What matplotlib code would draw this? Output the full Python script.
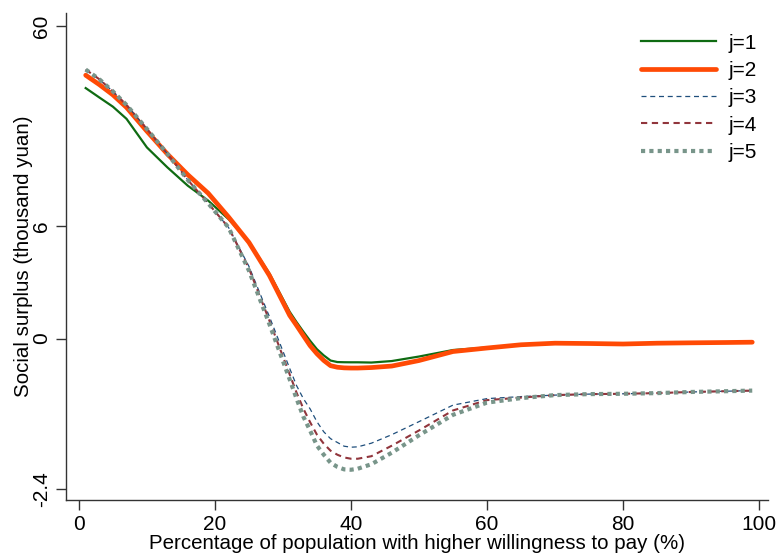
import numpy as np
import matplotlib
matplotlib.use("Agg")
import matplotlib.pyplot as plt

plt.rcParams['font.family'] = ['Liberation Sans', 'DejaVu Sans']

x = [1, 3, 5, 7, 10, 13, 16, 19, 22, 25, 28, 31, 32, 33, 34, 35, 36, 37, 38, 39, 40, 41, 43, 46,
     50, 55, 60, 65, 70, 75, 80, 85, 90, 95, 99]

j1 = [31.4, 28.4, 25.7, 22.5, 16.3, 12.9, 10.3, 8.5, 6.6, 4.7, 2.66, 0.889, 0.52, 0.206, -0.037, -0.171, -0.27,
      -0.352, -0.376, -0.379, -0.38, -0.38, -0.384, -0.36,
      -0.288, -0.184, -0.144, -0.10, -0.075, -0.08, -0.088, -0.075, -0.069, -0.064, -0.059]
j2 = [36.0, 32.6, 29.2, 25.5, 19.6, 15.1, 11.8, 9.36, 6.8, 4.65, 2.55, 0.755, 0.41, 0.086, -0.115, -0.243, -0.35,
      -0.434, -0.459, -0.469, -0.472, -0.472, -0.464, -0.44,
      -0.352, -0.208, -0.152, -0.10, -0.075, -0.08, -0.088, -0.075, -0.069, -0.064, -0.059]
j3 = [38.2, 34.5, 30.3, 26.2, 20.1, 15.15, 11.07, 8.2, 5.85, 3.06, 0.718, -0.48, -0.752, -0.96, -1.125, -1.33, -1.49,
      -1.6, -1.66, -1.72, -1.736, -1.73, -1.672, -1.536,
      -1.328, -1.064, -0.96, -0.928, -0.904, -0.888, -0.883, -0.872, -0.854, -0.842, -0.832]
j4 = [38.2, 34.5, 30.3, 26.2, 20.1, 15.15, 11.07, 8.2, 5.85, 2.94, 0.576, -0.576, -0.864, -1.12, -1.338, -1.536, -1.68,
      -1.792, -1.856, -1.90, -1.92, -1.92, -1.88, -1.712,
      -1.469, -1.149, -0.984, -0.944, -0.904, -0.888, -0.883, -0.872, -0.854, -0.842, -0.832]
j5 = [38.2, 34.5, 30.3, 26.2, 20.1, 15.15, 11.07, 8.2, 5.85, 2.81, 0.456, -0.656, -0.96, -1.248, -1.472, -1.71, -1.856,
      -1.984, -2.05, -2.09, -2.096, -2.08, -2.008, -1.824,
      -1.546, -1.219, -1.024, -0.952, -0.904, -0.888, -0.883, -0.872, -0.854, -0.842, -0.832]

yticks = [-2.4, 0, 6, 60]
ytick_labels = ['-2.4', '0', '6', '60']
xticks = [0, 20, 40, 60, 80, 100]
labels = ['j=1', 'j=2', 'j=3', 'j=4', 'j=5']

NEG = 0.61
POS = 3.0


def fwd(v):
    v = np.asarray(v, dtype=float)
    return np.where(v >= 0, np.log1p(np.clip(v, 0, None) / POS), v * NEG)


def inv(t):
    t = np.asarray(t, dtype=float)
    return np.where(t >= 0, POS * np.expm1(np.clip(t, 0, None)), t / NEG)


fig = plt.figure(figsize=(7.78, 5.55), dpi=100)
ax = fig.add_axes([0.0848, 0.099, 0.9022, 0.8776])
ax.set_yscale('function', functions=(fwd, inv))

ax.plot(x, j1, color='#0f6b12', lw=1.6, label=labels[0], solid_joinstyle='round')
ax.plot(x, j2, color='#ff4a05', lw=3.4, label=labels[1], solid_capstyle='round', solid_joinstyle='round')
ax.plot(x, j3, color='#1f4f7c', lw=0.9, ls=(0, (4, 3)), label=labels[2])
ax.plot(x, j4, color='#91353c', lw=1.5, ls=(0, (3, 2.2)), label=labels[3])
ax.plot(x, j5, color='#78958a', lw=3.0, ls=(0, (1, 1)), label=labels[4], dash_capstyle='butt')

ax.set_xlim(-1.9, 101.3)
ax.set_ylim(-2.58, 68.5)
ax.set_xticks(xticks)
ax.set_yticks(yticks)
ax.set_yticklabels(ytick_labels, rotation=90, va='center')
ax.yaxis.set_minor_locator(matplotlib.ticker.NullLocator())
ax.tick_params(axis='both', labelsize=15, length=7, width=1, color='#333333', direction='out')
ax.tick_params(axis='y', pad=4)
ax.tick_params(axis='x', pad=4)

for s in ['top', 'right']:
    ax.spines[s].set_visible(False)
for s in ['left', 'bottom']:
    ax.spines[s].set_color('#333333')
    ax.spines[s].set_linewidth(1.0)

ax.set_xlabel('Percentage of population with higher willingness to pay (%)', fontsize=14.8, labelpad=0)
ax.set_ylabel('Social surplus (thousand yuan)', fontsize=14.8, labelpad=-1)

leg = ax.legend(loc='upper right', frameon=False, fontsize=15, handlelength=3.6, handletextpad=0.6,
                labelspacing=0.4, bbox_to_anchor=(1.011, 0.996))

fig.savefig('out.png', dpi=100)
